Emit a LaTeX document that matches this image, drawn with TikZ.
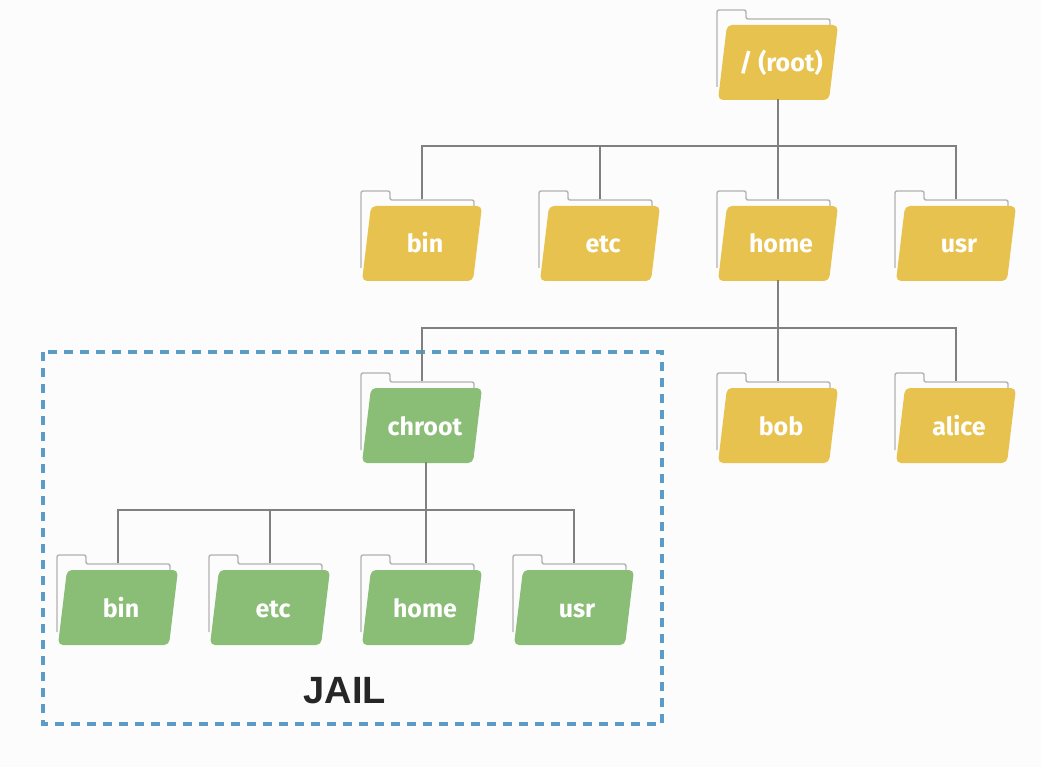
\documentclass[tikz,border=0pt]{standalone}
\usepackage{fontspec}
\setmainfont{Fira Sans}
\newfontfamily\jailfont{Liberation Sans}
\definecolor{folderyellow}{HTML}{E8C24F}
\definecolor{foldergreen}{HTML}{8ABD76}
\definecolor{jailblue}{HTML}{5B9BC8}
\tikzset{
  backline/.style={draw=black!30,line width=1.4pt,rounded corners=2pt},
  treeline/.style={draw=black!50,line width=2pt},
  foldertext/.style={text=white,font=\fontsize{25}{25}\selectfont\bfseries,minimum width=110pt,text height=47pt,text depth=27pt,inner sep=0pt},
  jailbox/.style={draw=jailblue,line width=3.5pt,dash pattern=on 9pt off 7pt},
}
% #1 name, #2 position, #3 colour, #4 label
\newcommand{\folder}[4]{
  \begin{scope}[shift={(#2)}]
    \draw[backline] (0,77)--(0,0)--(29,0)--(29,9)--(113,9)--(113,15);
    \fill[#3,rounded corners=5pt] (10,15)--(121,15)--(112,90)--(1,90) -- cycle;
    \node[foldertext] (#1) at (64,52) {#4};
    \coordinate (#1-top) at (61,8);
  \end{scope}
}
\begin{document}
\begin{tikzpicture}[x=1pt,y=-1pt]
\useasboundingbox[fill=black!1] (0,0) rectangle (1041,767);

\draw[jailbox] (43,352) rectangle (662,724);
\node[font=\jailfont\fontsize{38}{38}\selectfont\bfseries,text=black!85,inner sep=0pt] (jail) at (345,691) {JAIL};

% rangee du haut
\folder{root}{717,10}{folderyellow}{/ (root)}
\folder{bin}{361,191}{folderyellow}{bin}
\folder{etc}{539,191}{folderyellow}{etc}
\folder{home}{717,191}{folderyellow}{home}
\folder{usr}{895,191}{folderyellow}{usr}

% sous home
\folder{chroot}{361,373}{foldergreen}{chroot}
\folder{bob}{717,373}{folderyellow}{bob}
\folder{alice}{895,373}{folderyellow}{alice}

% dans la prison
\folder{jbin}{57,555}{foldergreen}{bin}
\folder{jetc}{209,555}{foldergreen}{etc}
\folder{jhome}{361,555}{foldergreen}{home}
\folder{jusr}{513,555}{foldergreen}{usr}

\coordinate (rootbus) at (778,146);
\coordinate (homebus) at (778,328);
\coordinate (chrootbus) at (426,510);

\draw[treeline] (rootbus |- root.south) -- (rootbus);
\draw[treeline] (bin-top) |- (rootbus) -| (usr-top);
\draw[treeline] (etc-top) -- (etc-top |- rootbus);
\draw[treeline] (rootbus) -- (home-top);

\draw[treeline] (homebus |- home.south) -- (homebus);
\draw[treeline] (chroot-top) |- (homebus) -| (alice-top);
\draw[treeline] (homebus) -- (bob-top);

\draw[treeline] (chrootbus |- chroot.south) -- (chrootbus);
\draw[treeline] (jbin-top) |- (chrootbus) -| (jusr-top);
\draw[treeline] (jetc-top) -- (jetc-top |- chrootbus);
\draw[treeline] (chrootbus) -- (chrootbus |- jhome-top);
\end{tikzpicture}
\end{document}
